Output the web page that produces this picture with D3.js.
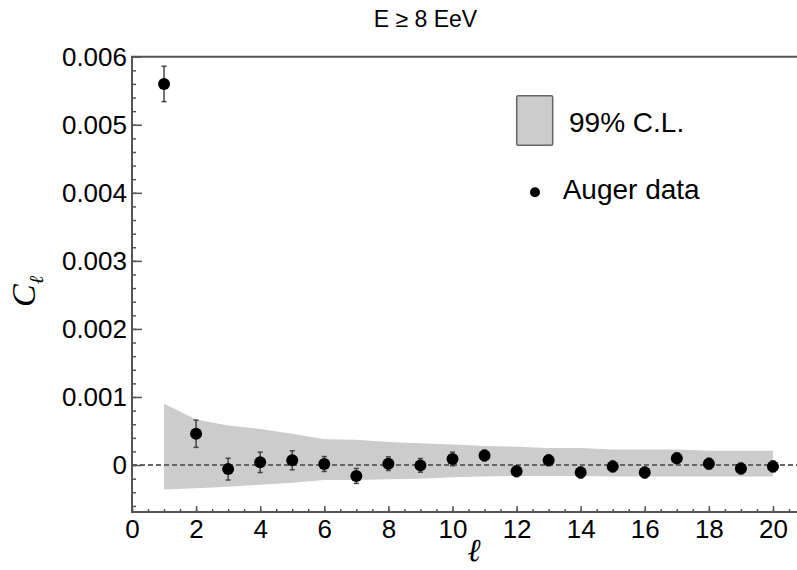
<!DOCTYPE html>
<html>
<head>
<meta charset="utf-8">
<script src="https://cdn.jsdelivr.net/npm/d3@7"></script>
<style>
  html, body { margin: 0; padding: 0; background: #fff; }
  svg { display: block; font-family: "Liberation Sans", Arial, Helvetica, sans-serif; }
</style>
</head>
<body>
<svg id="chart" width="797" height="570"></svg>
<script>
// ---- data ----
const ells = [1,2,3,4,5,6,7,8,9,10,11,12,13,14,15,16,17,18,19,20];
const cl = [0.00560,0.000460,-0.000060,0.000040,0.000070,0.000015,-0.000160,0.000020,-0.000005,0.000090,
            0.000140,-0.000090,0.000070,-0.000110,-0.000020,-0.000110,0.000100,0.000020,-0.000050,-0.000020];
const clErr = [0.00026,0.00020,0.00016,0.00015,0.00014,0.00011,0.00011,0.00010,0.00010,0.00010,
               0.00008,0.00008,0.00008,0.00008,0.00008,0.00008,0.00008,0.00008,0.00008,0.00008];
const bandUpper = [0.00090,0.00067,0.00058,0.00053,0.00046,0.00038,0.00037,0.00034,0.00032,0.00030,
                   0.00028,0.00027,0.00025,0.00025,0.00023,0.00023,0.00023,0.00021,0.00021,0.00021];
const bandLower = [-0.00036,-0.00034,-0.00032,-0.00029,-0.00026,-0.00022,-0.00022,-0.00021,-0.00020,-0.00018,
                   -0.00017,-0.00016,-0.00016,-0.00016,-0.00017,-0.00017,-0.00017,-0.00017,-0.00017,-0.00017];
const xTicks = [0,2,4,6,8,10,12,14,16,18,20];
const yTicks = [0,0.001,0.002,0.003,0.004,0.005,0.006];
const yTickLabels = ["0","0.001","0.002","0.003","0.004","0.005","0.006"];
const titleText = "E \u2265 8 EeV";
const legendLabels = ["99% C.L.", "Auger data"];

// ---- scales ----
const svg = d3.select("#chart");
const pLeft = 132, pRight = 797, pTop = 56.7, pBottom = 512;
const x = d3.scaleLinear().domain([0, 20.75]).range([pLeft, pRight]);
const y = d3.scaleLinear().domain([-0.00069, 0.006]).range([pBottom, pTop]);
const frameColor = "#555";

// band
const bandData = ells.map((l, i) => ({l, lo: bandLower[i], hi: bandUpper[i]}));
svg.append("path")
  .datum(bandData)
  .attr("d", d3.area().x(d => x(d.l)).y0(d => y(d.lo)).y1(d => y(d.hi)))
  .attr("fill", "#cccccc");

// zero dashed line
svg.append("line")
  .attr("x1", x(0)).attr("x2", pRight)
  .attr("y1", y(0)).attr("y2", y(0))
  .attr("stroke", "#666").attr("stroke-width", 2)
  .attr("stroke-dasharray", "5,3");

// axes: minor ticks
const xMinor = d3.range(0, 20.75, 0.5);
svg.append("g").attr("transform", `translate(0,${pBottom})`)
  .call(d3.axisBottom(x).tickValues(xMinor).tickSizeInner(-3).tickSizeOuter(0).tickFormat(""))
  .call(g => g.select(".domain").remove())
  .call(g => g.selectAll("line").attr("stroke", frameColor).attr("stroke-width", 1.5));
const yMinor = d3.range(-0.0006, 0.00601, 0.0002);
svg.append("g").attr("transform", `translate(${pLeft},0)`)
  .call(d3.axisLeft(y).tickValues(yMinor).tickSizeInner(-4).tickSizeOuter(0).tickFormat(""))
  .call(g => g.select(".domain").remove())
  .call(g => g.selectAll("line").attr("stroke", frameColor).attr("stroke-width", 1.5));

// major
svg.append("g").attr("transform", `translate(0,${pBottom})`)
  .call(d3.axisBottom(x).tickValues(xTicks).tickSizeInner(-6).tickSizeOuter(0).tickPadding(8).tickFormat(d3.format("d")))
  .call(g => g.select(".domain").remove())
  .call(g => g.selectAll("line").attr("stroke", frameColor).attr("stroke-width", 1.5))
  .call(g => g.selectAll("text").attr("font-size", 26).attr("fill", "#000")
            .attr("font-family", "Liberation Sans, Arial, sans-serif"));
svg.append("g").attr("transform", `translate(${pLeft},0)`)
  .call(d3.axisLeft(y).tickValues(yTicks).tickSizeInner(-10).tickSizeOuter(0).tickPadding(5)
        .tickFormat((d, i) => yTickLabels[i]))
  .call(g => g.select(".domain").remove())
  .call(g => g.selectAll("line").attr("stroke", frameColor).attr("stroke-width", 1.5))
  .call(g => g.selectAll("text").attr("font-size", 26).attr("fill", "#000")
            .attr("font-family", "Liberation Sans, Arial, sans-serif"));

// frame
svg.append("path")
  .attr("d", `M${pRight},${pTop}H${pLeft}V${pBottom}H${pRight}`)
  .attr("fill", "none").attr("stroke", frameColor).attr("stroke-width", 2);

// error bars
const eb = svg.append("g").attr("stroke", "#444").attr("stroke-width", 1.5);
ells.forEach((l, i) => {
  const cx = x(l), y1 = y(cl[i] + clErr[i]), y2 = y(cl[i] - clErr[i]);
  eb.append("line").attr("x1", cx).attr("x2", cx).attr("y1", y1).attr("y2", y2);
  eb.append("line").attr("x1", cx - 2.5).attr("x2", cx + 2.5).attr("y1", y1).attr("y2", y1);
  eb.append("line").attr("x1", cx - 2.5).attr("x2", cx + 2.5).attr("y1", y2).attr("y2", y2);
});

// points
svg.append("g").selectAll("circle").data(ells).join("circle")
  .attr("cx", d => x(d)).attr("cy", (d, i) => y(cl[i])).attr("r", 6).attr("fill", "#000");

// title
svg.append("text").attr("x", 425.5).attr("y", 27).attr("text-anchor", "middle")
  .attr("font-size", 23).text(titleText);

// legend
svg.append("rect").attr("x", 516.7).attr("y", 95.7).attr("width", 36).attr("height", 49.6)
  .attr("rx", 1.5).attr("fill", "#cccccc").attr("stroke", "#666").attr("stroke-width", 1.5);
svg.append("text").attr("x", 569).attr("y", 131.7).attr("font-size", 28).text(legendLabels[0]);
svg.append("circle").attr("cx", 535).attr("cy", 192.3).attr("r", 5).attr("fill", "#000");
svg.append("text").attr("x", 562.7).attr("y", 199.3).attr("font-size", 28).text(legendLabels[1]);

// axis labels
const yl = svg.append("text").attr("transform", "translate(35,307) rotate(-90)")
  .attr("font-family", "Liberation Serif, Times New Roman, serif").attr("font-style", "italic");
yl.append("tspan").attr("font-size", 34).text("C");
yl.append("tspan").attr("font-size", 20).attr("dy", 8).text("\u2113");

svg.append("text").attr("x", 474).attr("y", 561).attr("text-anchor", "middle")
  .attr("font-family", "Liberation Serif, Times New Roman, serif").attr("font-style", "italic")
  .attr("font-size", 32).text("\u2113");
</script>
</body>
</html>
